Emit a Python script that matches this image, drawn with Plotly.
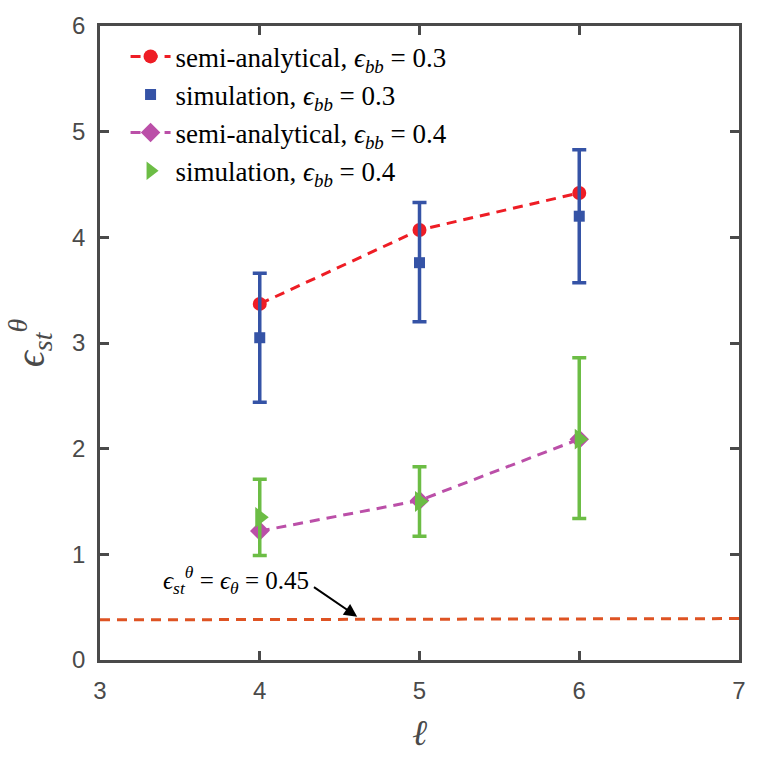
import plotly.graph_objects as go

ell = [4, 5, 6]
semi_03 = [3.37, 4.07, 4.42]
sim_03 = [3.05, 3.76, 4.20]
sim_03_hi = [3.66, 4.33, 4.83]
sim_03_lo = [2.44, 3.20, 3.57]
semi_04 = [1.22, 1.51, 2.09]
sim_04 = [1.35, 1.50, 2.09]
sim_04_hi = [1.71, 1.83, 2.86]
sim_04_lo = [0.99, 1.17, 1.34]
ref_x = [3, 7]
ref_y = [0.38, 0.392]

RED = "#ee1d25"
BLUE = "#3553a6"
PURPLE = "#bb4fa8"
GREEN = "#6cbd45"
ORANGE = "#de5323"
AX = "#4a4a4a"
SERIF = "Liberation Serif"

fig = go.Figure()

fig.add_trace(go.Scatter(
    x=ref_x, y=ref_y, mode="lines", showlegend=False,
    line=dict(color=ORANGE, width=3, dash="10px,7px")))

fig.add_trace(go.Scatter(
    x=ell, y=semi_03, mode="lines+markers",
    name="semi-analytical, <i>ϵ<sub>bb</sub></i> = 0.3",
    line=dict(color=RED, width=3, dash="10px,7px"),
    marker=dict(symbol="circle", size=14, color=RED)))

fig.add_trace(go.Scatter(
    x=ell, y=sim_03, mode="markers",
    name="simulation, <i>ϵ<sub>bb</sub></i> = 0.3",
    marker=dict(symbol="square", size=11, color=BLUE),
    error_y=dict(type="data", symmetric=False,
                 array=[h - v for h, v in zip(sim_03_hi, sim_03)],
                 arrayminus=[v - l for l, v in zip(sim_03_lo, sim_03)],
                 color=BLUE, thickness=3.5, width=7)))

fig.add_trace(go.Scatter(
    x=ell, y=semi_04, mode="lines+markers",
    name="semi-analytical, <i>ϵ<sub>bb</sub></i> = 0.4",
    line=dict(color=PURPLE, width=3, dash="10px,7px"),
    marker=dict(symbol="diamond", size=15, color=PURPLE)))

fig.add_trace(go.Scatter(
    x=ell, y=sim_04, mode="markers",
    name="simulation, <i>ϵ<sub>bb</sub></i> = 0.4",
    marker=dict(symbol="triangle-right", size=18, color=GREEN),
    error_y=dict(type="data", symmetric=False,
                 array=[h - v for h, v in zip(sim_04_hi, sim_04)],
                 arrayminus=[v - l for l, v in zip(sim_04_lo, sim_04)],
                 color=GREEN, thickness=3.5, width=7)))

fig.add_annotation(
    x=4.61, y=0.41, ax=4.33, ay=0.70, axref="x", ayref="y",
    text="", showarrow=True, arrowhead=2, arrowsize=1.3, arrowwidth=2,
    arrowcolor="black", xref="x", yref="y")
fig.add_annotation(
    x=3.85, y=0.76, xref="x", yref="y", showarrow=False,
    text="<i>ϵ</i><sub><i>st</i></sub><sup><i>θ</i></sup> = <i>ϵ<sub>θ</sub></i> = 0.45",
    font=dict(family=SERIF, size=25, color="black"))

axis_common = dict(
    showline=True, linecolor=AX, linewidth=2.5, mirror="ticks",
    ticks="inside", ticklen=9, tickwidth=2.5, tickcolor=AX,
    showgrid=False, zeroline=False, ticklabelstandoff=7,
    tickfont=dict(family="Liberation Sans", size=24, color=AX))

fig.update_layout(
    width=769, height=759,
    margin=dict(l=100, r=30, t=23, b=98),
    paper_bgcolor="white", plot_bgcolor="white",
    showlegend=True,
    legend=dict(x=0.04, y=0.99, xanchor="left", yanchor="top",
                bgcolor="rgba(0,0,0,0)", borderwidth=0,
                font=dict(family=SERIF, size=27, color="black"),
                tracegroupgap=0, itemwidth=40),
    xaxis=dict(range=[3, 7], tickvals=[3, 4, 5, 6, 7],
               title=dict(text="<i>ℓ</i>", font=dict(family=SERIF, size=36, color=AX), standoff=18),
               **axis_common),
    yaxis=dict(range=[0, 6], tickvals=[0, 1, 2, 3, 4, 5, 6],
               title=dict(text="<i>ϵ</i><sub><i>st</i></sub><sup><i>θ</i></sup>",
                          font=dict(family=SERIF, size=40, color=AX), standoff=16),
               **axis_common),
)

fig.write_html("out.html")
